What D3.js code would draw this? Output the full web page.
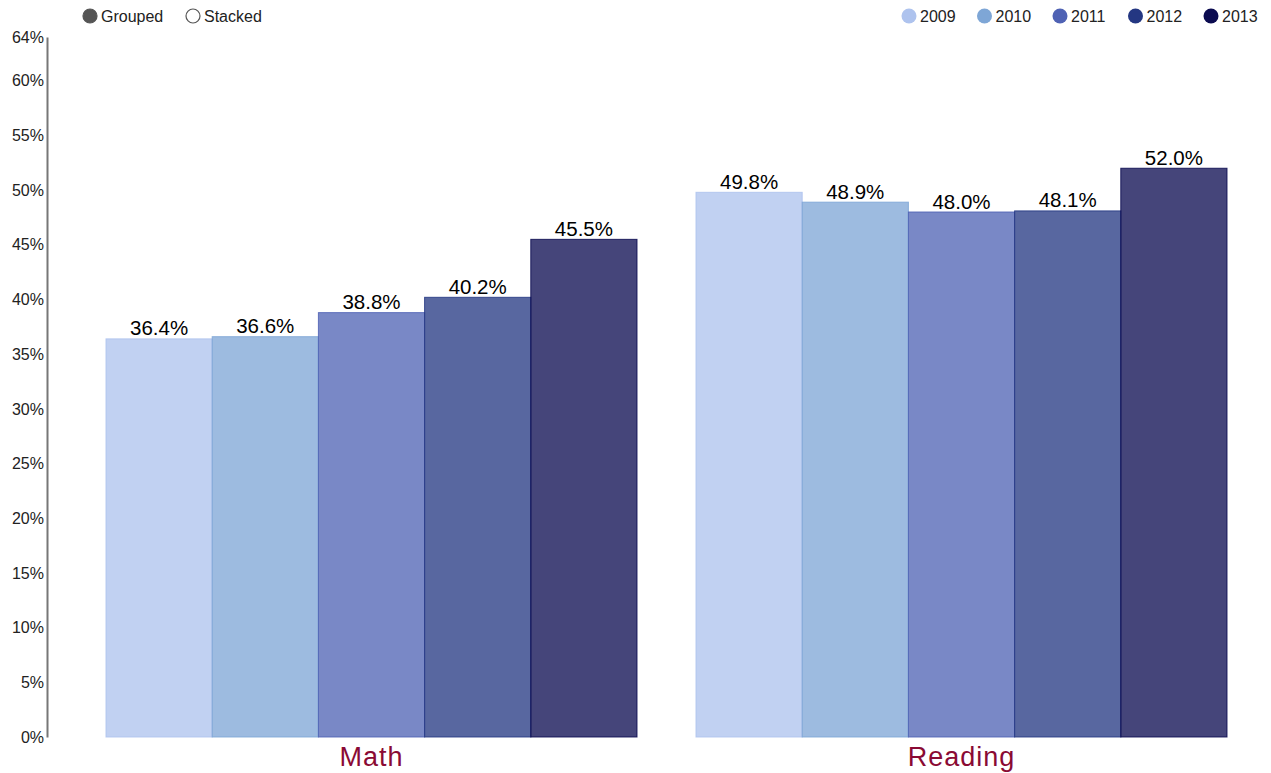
<!DOCTYPE html>
<html><head><meta charset="utf-8">
<script src="https://cdn.jsdelivr.net/npm/d3@7"></script>
<style>body{margin:0;background:#fff;font-family:"Liberation Sans",Arial,sans-serif;}</style>
</head><body><svg id="c" width="1271" height="773"></svg>
<script>
const categories = ["Math", "Reading"];
const years = ["2009", "2010", "2011", "2012", "2013"];
const values2009 = [36.4, 49.8];
const values2010 = [36.6, 48.9];
const values2011 = [38.8, 48.0];
const values2012 = [40.2, 48.1];
const values2013 = [45.5, 52.0];
const yTicks = [0, 5, 10, 15, 20, 25, 30, 35, 40, 45, 50, 55, 60, 64];
const colors = ["#aec3ee", "#7ea6d6", "#4f62b4", "#243782", "#0b0b50"];
const modes = ["Grouped", "Stacked"];

const series = [values2009, values2010, values2011, values2012, values2013];
const svg = d3.select("#c");
const y = d3.scaleLinear().domain([0, 64]).range([737, 37]);
const x0 = d3.scaleBand().domain(categories).range([47, 1286]).paddingInner(0.1).paddingOuter(0.1);
const x1 = d3.scaleBand().domain(years).range([0, x0.bandwidth()]);
const color = d3.scaleOrdinal().domain(years).range(colors);

// y axis
const yAxis = d3.axisLeft(y).tickValues(yTicks).tickSize(0).tickPadding(3).tickFormat(d => d + "%");
const ga = svg.append("g").attr("transform", "translate(47,0)").call(yAxis);
ga.select(".domain").attr("stroke", "#777").attr("stroke-width", 2);
ga.selectAll("text").attr("font-size", 16).attr("fill", "#222").attr("font-family", "Liberation Sans, Arial, sans-serif");

// bars
const groups = svg.selectAll("g.grp").data(categories).enter().append("g")
  .attr("transform", d => `translate(${x0(d)},0)`);
groups.each(function(cat, ci) {
  const g = d3.select(this);
  years.forEach((yr, si) => {
    const v = series[si][ci];
    g.append("rect").attr("x", x1(yr)).attr("width", x1.bandwidth())
      .attr("y", y(v)).attr("height", y(0) - y(v))
      .attr("fill", color(yr)).attr("fill-opacity", 0.76)
      .attr("stroke", color(yr)).attr("stroke-opacity", 0.85).attr("stroke-width", 1);
    g.append("text").attr("x", x1(yr) + x1.bandwidth() / 2).attr("y", y(v) - 3.5)
      .attr("text-anchor", "middle").attr("font-size", 20.5).attr("fill", "#000")
      .text(v.toFixed(1) + "%");
  });
});

// category labels
svg.selectAll("text.cat").data(categories).enter().append("text")
  .attr("x", d => x0(d) + x0.bandwidth() / 2).attr("y", 766)
  .attr("text-anchor", "middle").attr("font-size", 27).attr("fill", "#8a0a34")
  .attr("letter-spacing", 1)
  .text(d => d);

// mode legend
const modeX = [90, 193];
modes.forEach((m, i) => {
  svg.append("circle").attr("cx", modeX[i]).attr("cy", 16).attr("r", 7)
    .attr("fill", i === 0 ? "#555" : "#fff").attr("stroke", "#555").attr("stroke-width", 1.2);
  svg.append("text").attr("x", modeX[i] + 11).attr("y", 21.5).attr("font-size", 16).attr("fill", "#222").text(m);
});

// year legend
years.forEach((yr, i) => {
  const cx = 909 + i * 75.5;
  svg.append("circle").attr("cx", cx).attr("cy", 16).attr("r", 7.5).attr("fill", color(yr));
  svg.append("text").attr("x", cx + 11).attr("y", 21.5).attr("font-size", 16).attr("fill", "#222").text(yr);
});
</script></body></html>
